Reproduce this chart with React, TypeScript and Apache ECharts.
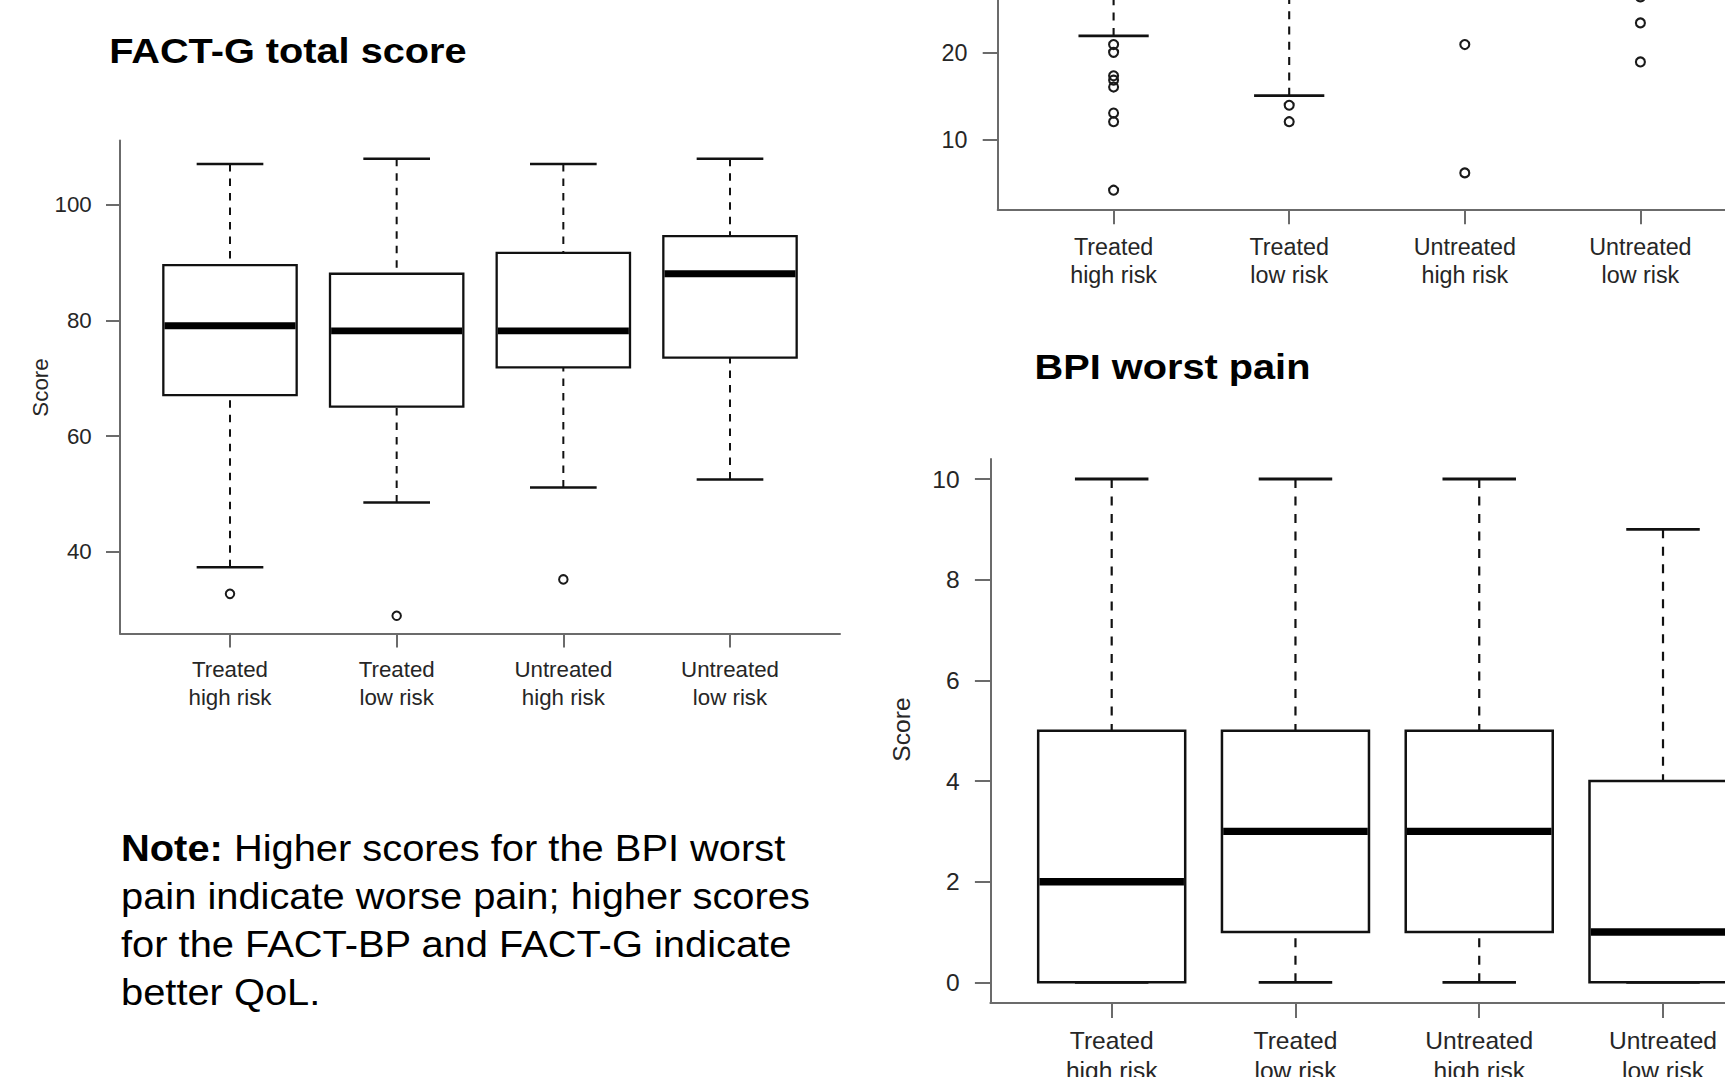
import React, { useEffect, useRef } from 'react';
import * as echarts from 'echarts';

// ---------- data ----------
const groupLabels = ['Treated\nhigh risk', 'Treated\nlow risk', 'Untreated\nhigh risk', 'Untreated\nlow risk'];
const groupPositions = [1, 2, 3, 4];

// FACT-G total score: [lower whisker, Q1, median, Q3, upper whisker]
const factGStats = [
  [37.3, 67.1, 79.1, 89.6, 107.1],
  [48.5, 65.1, 78.2, 88.1, 108.0],
  [51.1, 71.9, 78.2, 91.7, 107.1],
  [52.5, 73.6, 88.1, 94.6, 108.0],
];
const factGOutliers = [[32.7], [28.9], [35.2], []];
const factGTicks = [40, 60, 80, 100];

// Top-right panel (only its lower part is inside the picture; upper box parts are off-canvas estimates)
const topRightStats = [
  [22.0, 34, 42, 49, 54],
  [15.1, 33, 41, 48, 54],
  [28, 38, 45, 51, 54],
  [30, 40, 46, 51, 54],
];
const topRightOutliers = [
  [21.0, 20.1, 17.4, 16.9, 16.1, 13.1, 12.1, 4.2],
  [14.0, 12.1],
  [21.0, 6.2],
  [26.5, 23.5, 19.0],
];
const topRightTicks = [10, 20];

// BPI worst pain
const bpiStats = [
  [0, 0, 2, 5, 10],
  [0, 1, 3, 5, 10],
  [0, 1, 3, 5, 10],
  [0, 0, 1, 4, 9],
];
const bpiOutliers = [[], [], [], []];
const bpiTicks = [0, 2, 4, 6, 8, 10];

const noteLines = [
  '{b|Note:} Higher scores for the BPI worst',
  'pain indicate worse pain; higher scores',
  'for the FACT-BP and FACT-G indicate',
  'better QoL.',
];

// ---------- styling ----------
const FF = '"Liberation Sans", Arial, Helvetica, sans-serif';
const AXIS_COLOR = '#6b6b6b';
const LABEL_COLOR = '#262626';
const LINE_COLOR = '#111111';

type Panel = {
  stats: number[][];
  outliers: number[][];
  ticks: number[];
  yMin: number;
  yMax: number;
  grid: { left: number; top: number; width: number; height: number };
  font: number;
  lh: number;
  xMargin: number;
  yMargin: number;
  tickLen: number;
  boxLw: number;
  medLw: number;
  whLw: number;
  stapleLw: number;
  dash: number[];
  sym: number;
  symLw: number;
};

const panels: Panel[] = [
  {
    stats: factGStats, outliers: factGOutliers, ticks: factGTicks, yMin: 25.84, yMax: 111.16,
    grid: { left: 120, top: 140.5, width: 720, height: 493 },
    font: 22.3, lh: 27.4, xMargin: 22.6, yMargin: 28.3, tickLen: 14,
    boxLw: 2.3, medLw: 6.8, whLw: 2, stapleLw: 2.6, dash: [7.5, 7], sym: 8.5, symLw: 2,
  },
  {
    stats: topRightStats, outliers: topRightOutliers, ticks: topRightTicks, yMin: 2, yMax: 56,
    grid: { left: 997.7, top: -258.9, width: 758.6, height: 468.2 },
    font: 23.3, lh: 28.3, xMargin: 23.6, yMargin: 30.3, tickLen: 15,
    boxLw: 2.4, medLw: 7, whLw: 2.1, stapleLw: 2.7, dash: [8, 7.3], sym: 9, symLw: 2.1,
  },
  {
    stats: bpiStats, outliers: bpiOutliers, ticks: bpiTicks, yMin: -0.4, yMax: 10.4,
    grid: { left: 990.4, top: 458.9, width: 793.9, height: 543.6 },
    font: 24.6, lh: 30.3, xMargin: 22.8, yMargin: 30.7, tickLen: 15.5,
    boxLw: 2.5, medLw: 7.4, whLw: 2.2, stapleLw: 2.9, dash: [9, 8.5], sym: 9, symLw: 2.2,
  },
];

function makeRenderItem(p: Panel) {
  return (params: any, api: any) => {
    const x = api.value(0);
    const lo = api.coord([x, api.value(1)]);
    const q1 = api.coord([x, api.value(2)]);
    const md = api.coord([x, api.value(3)]);
    const q3 = api.coord([x, api.value(4)]);
    const hi = api.coord([x, api.value(5)]);
    const left = api.coord([x - 0.4, api.value(3)])[0];
    const right = api.coord([x + 0.4, api.value(3)])[0];
    const sl = api.coord([x - 0.2, api.value(3)])[0];
    const sr = api.coord([x + 0.2, api.value(3)])[0];
    const cx = lo[0];
    const whisker = { stroke: LINE_COLOR, lineWidth: p.whLw, lineDash: p.dash, fill: null };
    const staple = { stroke: LINE_COLOR, lineWidth: p.stapleLw, fill: null };
    return {
      type: 'group',
      children: [
        { type: 'line', shape: { x1: cx, y1: lo[1], x2: cx, y2: q1[1] }, style: whisker },
        { type: 'line', shape: { x1: cx, y1: hi[1], x2: cx, y2: q3[1] }, style: whisker },
        { type: 'line', shape: { x1: sl, y1: lo[1], x2: sr, y2: lo[1] }, style: staple },
        { type: 'line', shape: { x1: sl, y1: hi[1], x2: sr, y2: hi[1] }, style: staple },
        {
          type: 'rect',
          shape: { x: left, y: q3[1], width: right - left, height: q1[1] - q3[1] },
          style: { fill: '#ffffff', stroke: LINE_COLOR, lineWidth: p.boxLw },
        },
        {
          type: 'line',
          shape: { x1: left + p.boxLw / 2, y1: md[1], x2: right - p.boxLw / 2, y2: md[1] },
          style: { stroke: '#000000', lineWidth: p.medLw, fill: null },
        },
      ],
    };
  };
}

function buildOption() {
  const grid: any[] = [];
  const xAxis: any[] = [];
  const yAxis: any[] = [];
  const series: any[] = [];

  panels.forEach((p, i) => {
    grid.push({ ...p.grid, containLabel: false, outerBoundsMode: 'none' });
    xAxis.push({
      gridIndex: i,
      type: 'value',
      min: 0.34,
      max: 4.66,
      axisLine: { show: true, onZero: false, lineStyle: { color: AXIS_COLOR, width: 2 } },
      axisTick: { show: true, length: p.tickLen, customValues: groupPositions, lineStyle: { color: AXIS_COLOR, width: 2 } },
      axisLabel: {
        show: true,
        customValues: groupPositions,
        formatter: (v: number) => groupLabels[Math.round(v) - 1] ?? '',
        fontSize: p.font,
        lineHeight: p.lh,
        fontFamily: FF,
        color: LABEL_COLOR,
        margin: p.xMargin,
      },
      splitLine: { show: false },
    });
    yAxis.push({
      gridIndex: i,
      type: 'value',
      min: p.yMin,
      max: p.yMax,
      axisLine: { show: true, onZero: false, lineStyle: { color: AXIS_COLOR, width: 2 } },
      axisTick: { show: true, length: p.tickLen, customValues: p.ticks, lineStyle: { color: AXIS_COLOR, width: 2 } },
      axisLabel: {
        show: true,
        customValues: p.ticks,
        formatter: (v: number) => String(v),
        fontSize: p.font,
        fontFamily: FF,
        color: LABEL_COLOR,
        margin: p.yMargin,
      },
      splitLine: { show: false },
    });
    series.push({
      type: 'custom',
      xAxisIndex: i,
      yAxisIndex: i,
      silent: true,
      renderItem: makeRenderItem(p),
      encode: { x: 0, y: [1, 2, 3, 4, 5] },
      data: p.stats.map((s, k) => [groupPositions[k], ...s]),
      z: 2,
    });
    const pts: number[][] = [];
    p.outliers.forEach((arr, k) => arr.forEach((v) => pts.push([groupPositions[k], v])));
    series.push({
      type: 'scatter',
      xAxisIndex: i,
      yAxisIndex: i,
      silent: true,
      symbol: 'circle',
      symbolSize: p.sym,
      itemStyle: { color: 'rgba(0,0,0,0)', borderColor: '#1a1a1a', borderWidth: p.symLw, opacity: 1 },
      data: pts,
      z: 3,
    });
  });

  const textBase = { fill: '#000000', fontFamily: FF, textAlign: 'left', align: 'left', textVerticalAlign: 'middle', verticalAlign: 'middle' };

  const graphic: any[] = [
    {
      type: 'text', x: 109.2, y: 50.4, scaleX: 1.135,
      style: { ...textBase, text: 'FACT-G total score', fontSize: 35, fontWeight: 'bold' },
    },
    {
      type: 'text', x: 1034.6, y: 367.0, scaleX: 1.135,
      style: { ...textBase, text: 'BPI worst pain', fontSize: 35, fontWeight: 'bold' },
    },
    {
      type: 'text', x: 40.6, y: 387.5, rotation: Math.PI / 2,
      style: { ...textBase, fill: LABEL_COLOR, text: 'Score', fontSize: 22.3, textAlign: 'center', align: 'center' },
    },
    {
      type: 'text', x: 901, y: 729.5, rotation: Math.PI / 2,
      style: { ...textBase, fill: LABEL_COLOR, text: 'Score', fontSize: 24.6, textAlign: 'center', align: 'center' },
    },
  ];
  noteLines.forEach((line, k) => {
    graphic.push({
      type: 'text', x: 121, y: 849 + k * 48, scaleX: 1.107,
      style: {
        ...textBase,
        text: line,
        fontSize: 36,
        rich: { b: { fontWeight: 'bold', fontSize: 36, fontFamily: FF, fill: '#000000' } },
      },
    });
  });

  return {
    animation: false,
    backgroundColor: '#ffffff',
    grid,
    xAxis,
    yAxis,
    series,
    graphic,
  };
}

export default function App() {
  const ref = useRef<HTMLDivElement>(null);
  useEffect(() => {
    if (!ref.current) return;
    const chart = echarts.init(ref.current, null, { renderer: 'svg', width: 1725, height: 1077 });
    chart.setOption(buildOption() as any);
    return () => chart.dispose();
  }, []);
  return (
    <div
      ref={ref}
      style={{ position: 'fixed', left: 0, top: 0, width: 1725, height: 1077, background: '#ffffff' }}
    />
  );
}
